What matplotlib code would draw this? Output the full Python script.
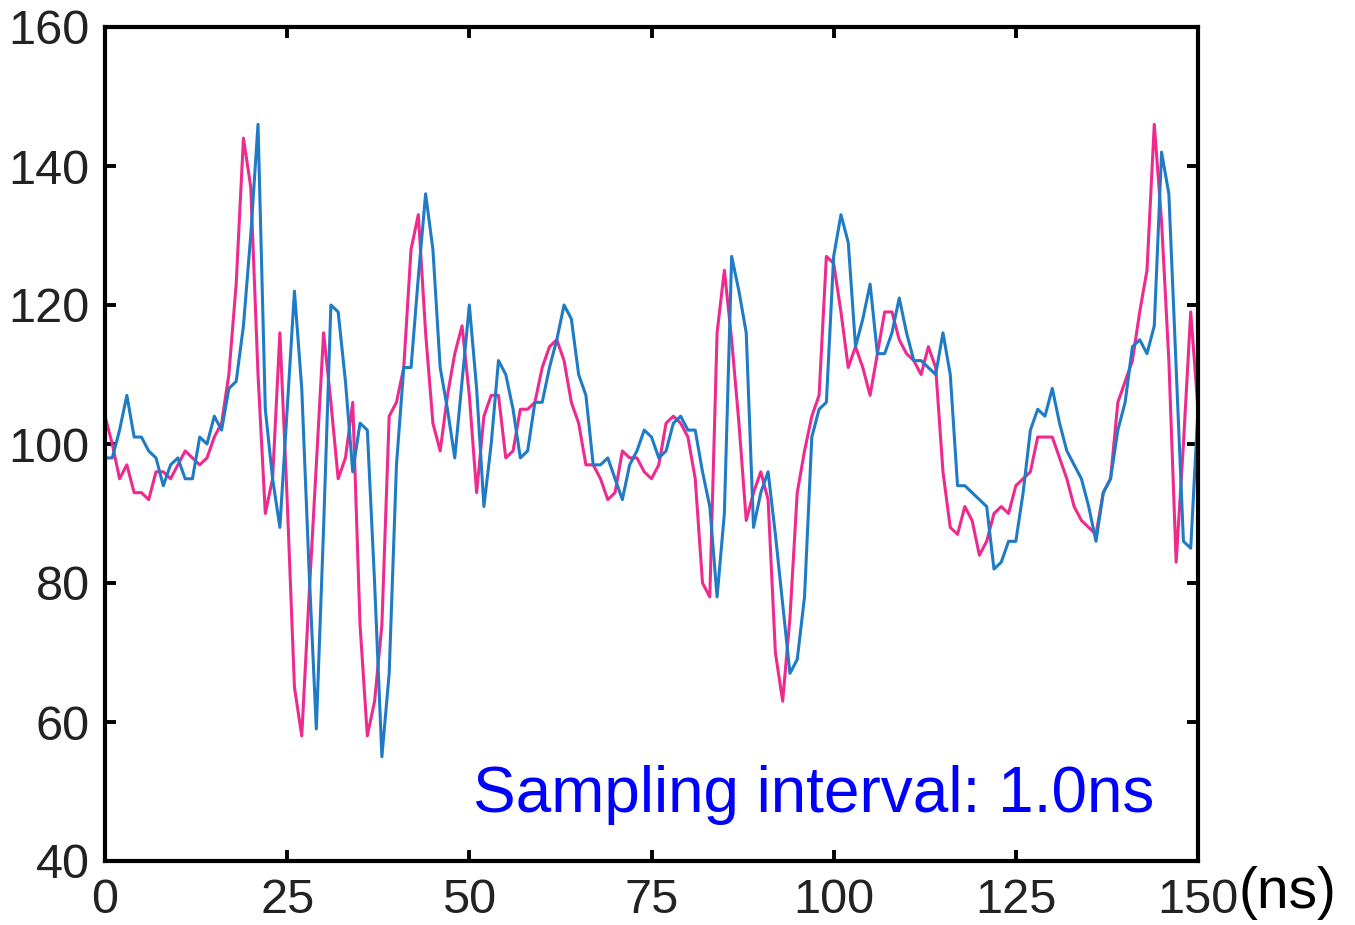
import numpy as np
import matplotlib
matplotlib.use("Agg")
import matplotlib.pyplot as plt

plt.rcParams["font.family"] = ["Liberation Sans", "DejaVu Sans"]

# time axis, one sample per ns
time_ns = np.arange(0, 151)

# received waveform (magenta)
pink_vals = [
    104, 100, 95, 97, 93, 93, 92, 96, 96, 95,
    97, 99, 98, 97, 98, 101, 103, 110, 123, 144,
    137, 110, 90, 95, 116, 92, 65, 58, 78, 97,
    116, 106, 95, 98, 106, 74, 58, 63, 74, 104,
    106, 111, 128, 133, 116, 103, 99, 107, 113, 117,
    107, 93, 104, 107, 107, 98, 99, 105, 105, 106,
    111, 114, 115, 112, 106, 103, 97, 97, 95, 92,
    93, 99, 98, 98, 96, 95, 97, 103, 104, 103,
    101, 95, 80, 78, 116, 125, 115, 103, 89, 93,
    96, 92, 70, 63, 75, 93, 99, 104, 107, 127,
    126, 119, 111, 114, 111, 107, 113, 119, 119, 115,
    113, 112, 110, 114, 111, 96, 88, 87, 91, 89,
    84, 86, 90, 91, 90, 94, 95, 96, 101, 101,
    101, 98, 95, 91, 89, 88, 87, 93, 95, 106,
    109, 112, 119, 125, 146, 132, 112, 83, 100, 119,
    105,
]

# reference waveform (blue)
blue_vals = [
    98, 98, 102, 107, 101, 101, 99, 98, 94, 97,
    98, 95, 95, 101, 100, 104, 102, 108, 109, 117,
    130, 146, 105, 95, 88, 105, 122, 108, 82, 59,
    88, 120, 119, 109, 96, 103, 102, 80, 55, 67,
    97, 111, 111, 124, 136, 128, 111, 105, 98, 109,
    120, 108, 91, 100, 112, 110, 105, 98, 99, 106,
    106, 111, 115, 120, 118, 110, 107, 97, 97, 98,
    95, 92, 97, 99, 102, 101, 98, 99, 103, 104,
    102, 102, 96, 91, 78, 90, 127, 122, 116, 88,
    93, 96, 87, 77, 67, 69, 78, 101, 105, 106,
    127, 133, 129, 114, 118, 123, 113, 113, 116, 121,
    116, 112, 112, 111, 110, 116, 110, 94, 94, 93,
    92, 91, 82, 83, 86, 86, 93, 102, 105, 104,
    108, 103, 99, 97, 95, 91, 86, 93, 95, 102,
    106, 114, 115, 113, 117, 142, 136, 111, 86, 85,
    105,
]

x_ticks = [0, 25, 50, 75, 100, 125, 150]
y_ticks = [40, 60, 80, 100, 120, 140, 160]

fig = plt.figure(figsize=(13.55, 9.25), dpi=100)
ax = fig.add_axes([105 / 1355, 1 - 861 / 925, 1093 / 1355, 834 / 925])

ax.plot(time_ns, pink_vals, color="#EE2A8E", lw=2.2)
ax.plot(time_ns, blue_vals, color="#1F7BC6", lw=2.2)

ax.set_xlim(0, 150)
ax.set_ylim(40, 160)
ax.set_xticks(x_ticks)
ax.set_yticks(y_ticks)
ax.tick_params(direction="in", length=8, width=2.8, labelsize=35,
               top=True, right=True, colors="black", labelcolor="#222222")
ax.tick_params(axis="x", pad=12)
ax.tick_params(axis="y", pad=11)
for side in ax.spines.values():
    side.set_linewidth(3)

ax.text(144, 47, "Sampling interval: 1.0ns", color="#0000FF", fontsize=46,
        ha="right", va="baseline")
fig.text(1238 / 1355, 1 - 893 / 925, "(ns)", fontsize=41, ha="left", va="center")

fig.savefig("out.png", dpi=100)
